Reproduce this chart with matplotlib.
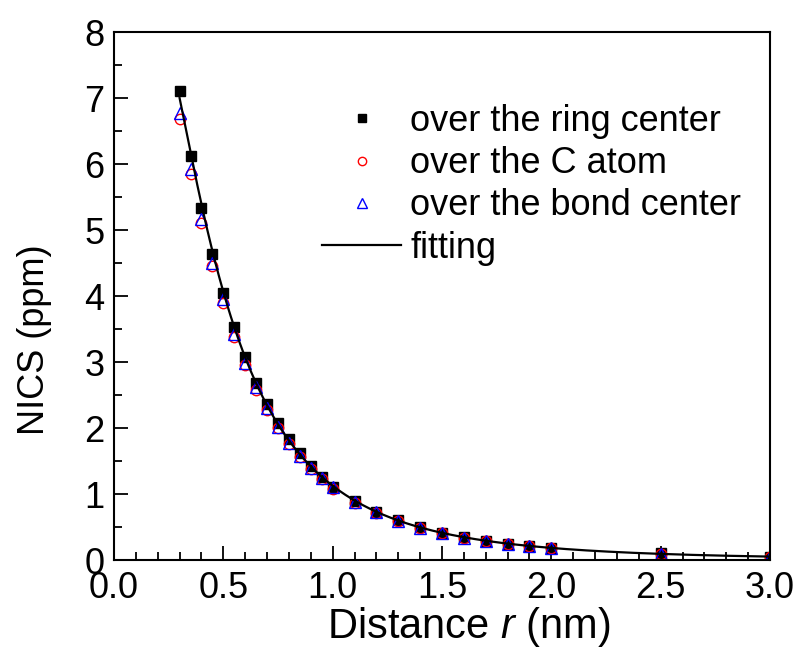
import numpy as np
import matplotlib
matplotlib.use("Agg")
import matplotlib.pyplot as plt
from matplotlib.ticker import MultipleLocator, FormatStrFormatter

plt.rcParams['font.family'] = ['Liberation Sans', 'DejaVu Sans']
plt.rcParams['mathtext.fontset'] = 'custom'
plt.rcParams['mathtext.rm'] = 'Liberation Sans'
plt.rcParams['mathtext.it'] = 'Liberation Sans:italic'

# distance r (nm)
r = [0.3, 0.35, 0.4, 0.45, 0.5, 0.55, 0.6, 0.65, 0.7, 0.75, 0.8, 0.85, 0.9, 0.95, 1.0,
     1.1, 1.2, 1.3, 1.4, 1.5, 1.6, 1.7, 1.8, 1.9, 2.0, 2.5, 3.0]

# NICS (ppm)
ring_center = [7.10, 6.12, 5.33, 4.64, 4.05, 3.53, 3.08, 2.68, 2.36, 2.08, 1.83, 1.62, 1.42, 1.26, 1.11,
               0.89, 0.73, 0.60, 0.50, 0.41, 0.35, 0.29, 0.24, 0.21, 0.18, 0.10, 0.05]
c_atom = [6.68, 5.85, 5.10, 4.45, 3.90, 3.38, 2.95, 2.58, 2.27, 2.00, 1.76, 1.56, 1.38, 1.22, 1.08,
          0.87, 0.71, 0.59, 0.49, 0.41, 0.34, 0.29, 0.25, 0.21, 0.18, 0.09, 0.05]
bond_center = [6.77, 5.92, 5.17, 4.50, 3.95, 3.42, 2.98, 2.62, 2.30, 2.02, 1.78, 1.58, 1.40, 1.24, 1.10,
               0.88, 0.72, 0.59, 0.49, 0.41, 0.34, 0.29, 0.25, 0.21, 0.18, 0.09, 0.05]

# fitting curve: cubic fit in log-log space of the ring-center data
coef = np.polyfit(np.log(r), np.log(ring_center), 3)
r_fit = np.linspace(0.3, 3.0, 300)
y_fit = np.exp(np.polyval(coef, np.log(r_fit)))

fig = plt.figure(figsize=(7.98, 6.52), dpi=100)
ax = fig.add_axes([114/798, 1-560/652, (770-114)/798, (560-32)/652])

ax.plot(r, ring_center, ls='none', marker='s', ms=7.5, color='black', label='over the ring center')
ax.plot(r, c_atom, ls='none', marker='o', ms=7.5, mfc='none', mec='red', mew=1, label='over the C atom')
ax.plot(r, bond_center, ls='none', marker='^', ms=8.5, mfc='none', mec='blue', mew=1, label='over the bond center')
ax.plot(r_fit, y_fit, color='black', lw=1.6, label='fitting')

ax.set_xlim(0, 3.0)
ax.set_ylim(0, 8)
ax.xaxis.set_major_locator(MultipleLocator(0.5))
ax.xaxis.set_minor_locator(MultipleLocator(0.1))
ax.yaxis.set_major_locator(MultipleLocator(1))
ax.yaxis.set_minor_locator(MultipleLocator(0.5))
ax.xaxis.set_major_formatter(FormatStrFormatter('%.1f'))
ax.tick_params(which='both', direction='in', top=False, right=False, labelsize=26, width=1.3)
ax.tick_params(which='major', length=10)
ax.tick_params(which='minor', length=6)
ax.tick_params(axis='x', which='major', pad=8)
ax.tick_params(axis='y', which='major', pad=7)
for s in ax.spines.values():
    s.set_linewidth(1.5)

ax.set_xlabel('Distance $r$ (nm)', fontsize=30)
ax.set_ylabel('NICS (ppm)', fontsize=26)
ax.xaxis.set_label_coords(0.541, -0.085)
ax.yaxis.set_label_coords(-0.094, 0.417)

ax.legend(loc='upper left', bbox_to_anchor=(322/798, 1-104/652), bbox_transform=fig.transFigure,
          frameon=False, fontsize=26, borderpad=0, borderaxespad=0, handlelength=2.2,
          handletextpad=0.25, labelspacing=0.2, markerscale=0.8)

fig.savefig('out.png', dpi=100)
